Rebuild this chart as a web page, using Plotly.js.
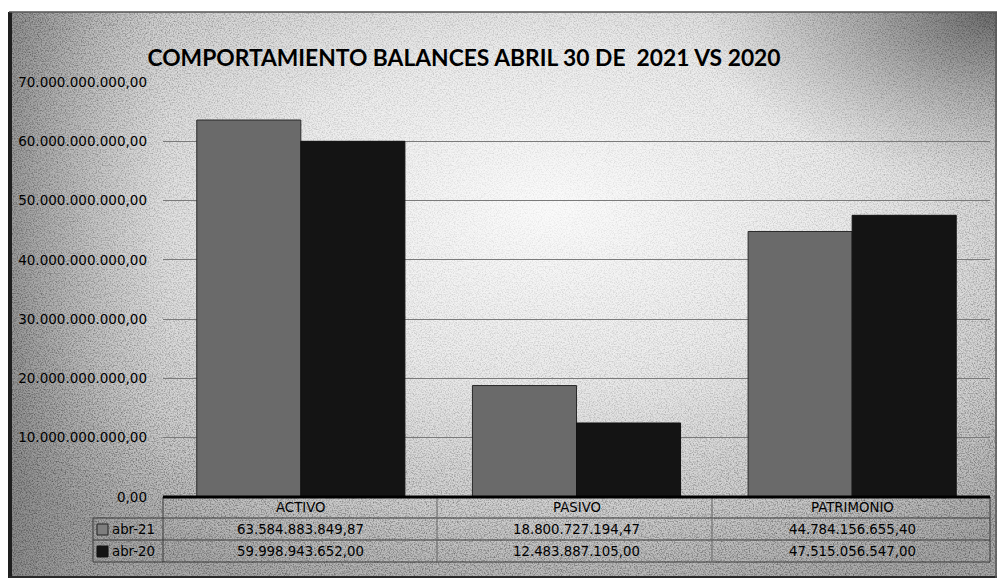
<!DOCTYPE html>
<html>
<head>
<meta charset="utf-8">
<script src="https://cdn.plot.ly/plotly-3.0.1.min.js"></script>
<style>html,body{margin:0;padding:0;background:#fff;}#chart{width:997px;height:586px;}</style>
</head>
<body>
<div id="chart"></div>
<script>
// ---- data ----
const categories = ["ACTIVO", "PASIVO", "PATRIMONIO"];
const seriesNames = ["abr-21", "abr-20"];
const abr21 = [63584883849.87, 18800727194.47, 44784156655.40];
const abr20 = [59998943652.00, 12483887105.00, 47515056547.00];
const chartTitle = "COMPORTAMIENTO BALANCES ABRIL 30 DE  2021 VS 2020";

// ---- geometry helpers (pixel -> paper) ----
const W = 997, H = 586, ML = 163, MR = 7, MT = 82, MB = 89;
const PW = W - ML - MR, PH = H - MT - MB;
const X = px => (px - ML) / PW;
const Y = py => (H - MB - py) / PH;

function fmt(v) {
  const s = v.toFixed(2).split(".");
  return s[0].replace(/\B(?=(\d{3})+(?!\d))/g, ".") + "," + s[1];
}

const col21 = "#6a6a6a", col20 = "#141414";
const tfont = {family: "DejaVu Sans", size: 13.3, color: "#000000"};

const traces = [
  {type: "bar", name: seriesNames[0], x: categories, y: abr21,
   marker: {color: col21, line: {color: "#2a2a2a", width: 1}}, hoverinfo: "y"},
  {type: "bar", name: seriesNames[1], x: categories, y: abr20,
   marker: {color: col20, line: {color: "#111", width: 1}}, hoverinfo: "y"}
];

// background svg (scan-like)
const bgSvg = `<svg xmlns="http://www.w3.org/2000/svg" width="997" height="586">
<defs>
<filter id="n" x="0" y="0" width="100%" height="100%">
<feTurbulence type="fractalNoise" baseFrequency="0.75" numOctaves="2" seed="7"/>
<feColorMatrix type="matrix" values="0 0 0 0 0  0 0 0 0 0  0 0 0 0 0  1.6 0 0 0 -0.65"/>
</filter>
<radialGradient id="g" cx="0.55" cy="0.35" r="0.72">
<stop offset="0" stop-color="#fbfbfb"/>
<stop offset="0.4" stop-color="#ececec"/>
<stop offset="0.75" stop-color="#cfcfcf"/>
<stop offset="1" stop-color="#a8a8a8"/>
</radialGradient>
<radialGradient id="nm" cx="0.55" cy="0.35" r="0.6">
<stop offset="0" stop-color="#fff" stop-opacity="0.15"/>
<stop offset="0.6" stop-color="#fff" stop-opacity="0.5"/>
<stop offset="1" stop-color="#fff" stop-opacity="1"/>
</radialGradient>
<mask id="m"><rect width="997" height="586" fill="url(#nm)"/></mask>
<linearGradient id="lft" x1="0" x2="1" y1="0" y2="0">
<stop offset="0" stop-color="#777" stop-opacity="0.6"/>
<stop offset="0.16" stop-color="#aaa" stop-opacity="0"/>
</linearGradient>
<radialGradient id="tr" cx="1" cy="0" r="0.3">
<stop offset="0" stop-color="#555" stop-opacity="0.8"/>
<stop offset="1" stop-color="#999" stop-opacity="0"/>
</radialGradient>
</defs>
<rect width="997" height="586" fill="#ffffff"/>
<rect x="9" y="12" width="988" height="566" fill="url(#g)"/>
<rect x="9" y="12" width="988" height="566" fill="url(#lft)"/>
<rect x="9" y="12" width="988" height="566" fill="url(#tr)"/>
<g mask="url(#m)"><rect x="9" y="12" width="988" height="566" filter="url(#n)" opacity="0.6"/></g>
<line x1="10" y1="12" x2="10" y2="578" stroke="#1e1e1e" stroke-width="4"/>
<line x1="9" y1="577" x2="997" y2="577" stroke="#2a2a2a" stroke-width="2"/>
<line x1="9" y1="12" x2="997" y2="12" stroke="#555" stroke-width="1.5"/>
<line x1="996" y1="12" x2="996" y2="578" stroke="#555" stroke-width="1.5"/>
</svg>`;
const bgSrc = "data:image/svg+xml;charset=utf-8," + encodeURIComponent(bgSvg);

const lineC = "#3a3a3a";
const shapes = [];
function hl(x0, x1, py, w, c) {
  shapes.push({type: "line", xref: "paper", yref: "paper", x0: X(x0), x1: X(x1), y0: Y(py), y1: Y(py),
               line: {color: c || lineC, width: w || 1}});
}
function vl(px, py0, py1, w, c) {
  shapes.push({type: "line", xref: "paper", yref: "paper", x0: X(px), x1: X(px), y0: Y(py0), y1: Y(py1),
               line: {color: c || lineC, width: w || 1}});
}
// table grid
hl(93, 990, 518); hl(93, 990, 540); hl(93, 990, 562);
vl(93, 518, 562);
vl(163, 497, 562);
vl(437, 497, 562, 1, "#666"); vl(712, 497, 562, 1, "#666"); vl(990, 497, 562);
// axis baseline (thick)
hl(163, 990, 497, 3, "#000");
// legend keys
shapes.push({type: "rect", xref: "paper", yref: "paper", x0: X(97), x1: X(108), y0: Y(535), y1: Y(524),
             fillcolor: "#7e7e7e", opacity: 1, line: {color: "#222", width: 1}});
shapes.push({type: "rect", xref: "paper", yref: "paper", x0: X(97), x1: X(108), y0: Y(557), y1: Y(546),
             fillcolor: col20, opacity: 1, line: {color: "#111", width: 1}});

const annotations = [];
categories.forEach((c, i) => {
  annotations.push({xref: "x", yref: "paper", x: c, y: Y(508), text: c, showarrow: false,
                    xanchor: "center", yanchor: "middle", font: tfont});
  annotations.push({xref: "x", yref: "paper", x: c, y: Y(529), text: fmt(abr21[i]), showarrow: false,
                    xanchor: "center", yanchor: "middle", font: tfont});
  annotations.push({xref: "x", yref: "paper", x: c, y: Y(551), text: fmt(abr20[i]), showarrow: false,
                    xanchor: "center", yanchor: "middle", font: tfont});
});
annotations.push({xref: "paper", yref: "paper", x: X(110), y: Y(529), text: seriesNames[0], showarrow: false,
                  xanchor: "left", yanchor: "middle", font: tfont});
annotations.push({xref: "paper", yref: "paper", x: X(110), y: Y(551), text: seriesNames[1], showarrow: false,
                  xanchor: "left", yanchor: "middle", font: tfont});

const layout = {
  width: W, height: H,
  margin: {l: ML, r: MR, t: MT, b: MB, pad: 0},
  paper_bgcolor: "#ffffff",
  plot_bgcolor: "rgba(0,0,0,0)",
  separators: ",.",
  showlegend: false,
  barmode: "group",
  bargap: 0.245,
  bargroupgap: 0,
  title: {text: "<b>" + chartTitle + "</b>", xref: "container", x: 464 / W, xanchor: "center",
          yref: "container", y: 1 - 58 / H, yanchor: "middle",
          font: {family: "Lato", size: 22.8, color: "#000000"}},
  xaxis: {type: "category", range: [-0.5, 2.5], showticklabels: false, showgrid: false,
          zeroline: false, showline: false, ticks: "", fixedrange: true},
  yaxis: {range: [0, 70e9], dtick: 10e9, tick0: 0, tickformat: ",.2f", showgrid: true,
          gridcolor: "#7a7a7a", gridwidth: 1, zeroline: false, showline: false, ticks: "",
          ticklabelstandoff: 15, tickfont: {family: "DejaVu Sans", size: 13.5, color: "#000000"},
          fixedrange: true},
  images: [{source: bgSrc, xref: "paper", yref: "paper", x: X(0), y: Y(0), sizex: W / PW, sizey: H / PH,
            xanchor: "left", yanchor: "top", sizing: "stretch", layer: "below"}],
  shapes: shapes,
  annotations: annotations
};

Plotly.newPlot("chart", traces, layout, {displayModeBar: false, staticPlot: true});
</script>
</body>
</html>
